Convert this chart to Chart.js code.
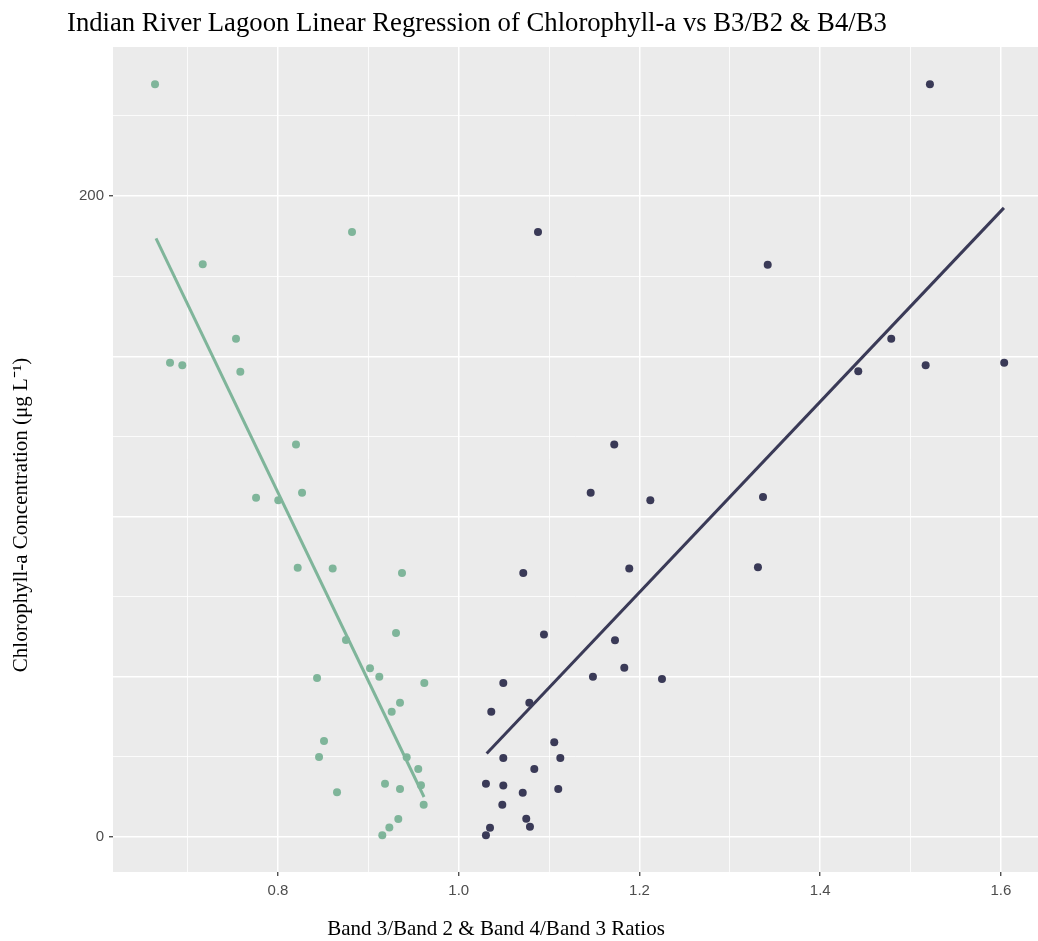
<!DOCTYPE html>
<html lang="en">
<head>
    <meta charset="UTF-8">
    <title>Indian River Lagoon Linear Regression</title>
    <script src="https://cdn.jsdelivr.net/npm/chart.js"></script>
    <style>
        body {
            margin: 0;
            padding: 0;
            background: white;
            overflow: hidden;
        }
        #wrap {
            width: 1038px;
            height: 941px;
        }
        canvas {
            display: block;
        }
    </style>
</head>
<body>
    <div id="wrap"><canvas id="chlChart" width="1038" height="941"></canvas></div>

    <script>
        // B3/B2 ratio vs chlorophyll-a (green points)
        const b32Ratio = [0.6639, 0.6805, 0.6941, 0.7167, 0.7535, 0.7583, 0.7757, 0.8003, 0.8199, 0.8266,
                          0.8218, 0.8605, 0.8819, 0.8752, 0.8432, 0.8509, 0.8454, 0.8653, 0.9018, 0.9121,
                          0.9306, 0.9372, 0.9258, 0.9350, 0.9619, 0.9424, 0.9552, 0.9184, 0.9350, 0.9582,
                          0.9612, 0.9331, 0.9232, 0.9154];
        const b32Chl = [234.9, 148.0, 147.2, 178.7, 155.5, 145.2, 105.9, 105.1, 122.5, 107.4,
                        84.0, 83.8, 188.8, 61.5, 49.6, 30.0, 25.0, 14.0, 52.7, 50.0,
                        63.7, 82.4, 39.1, 41.9, 48.1, 24.9, 21.2, 16.6, 15.0, 16.2,
                        10.1, 5.6, 3.0, 0.6];

        // B4/B3 ratio vs chlorophyll-a (dark points)
        const b43Ratio = [1.5214, 1.0877, 1.3419, 1.4786, 1.4421, 1.5167, 1.6036, 1.1721, 1.1460, 1.2120,
                          1.3367, 1.1887, 1.3311, 1.0714, 1.0943, 1.1729, 1.1832, 1.1485, 1.2249, 1.0493,
                          1.0360, 1.0781, 1.1057, 1.1124, 1.0493, 1.0836, 1.0301, 1.0493, 1.1101, 1.0708,
                          1.0482, 1.0747, 1.0788, 1.0346, 1.0301];
        const b43Chl = [234.9, 188.8, 178.6, 155.5, 145.3, 147.2, 148.0, 122.5, 107.4, 105.1,
                        106.1, 83.8, 84.2, 82.4, 63.2, 61.4, 52.8, 50.0, 49.3, 48.1,
                        39.1, 41.9, 29.6, 24.7, 24.7, 21.2, 16.6, 16.1, 15.0, 13.8,
                        10.1, 5.7, 3.2, 2.9, 0.6];

        // fitted lines, endpoints
        const b32FitX = [0.6650, 0.9616];
        const b32FitY = [186.8, 12.5];
        const b43FitX = [1.0309, 1.6033];
        const b43FitY = [26.1, 196.3];

        const xTicks = [0.7, 0.8, 0.9, 1.0, 1.1, 1.2, 1.3, 1.4, 1.5, 1.6];
        const xMajor = [0.8, 1.0, 1.2, 1.4, 1.6];
        const yTicks = [0, 25, 50, 75, 100, 125, 150, 175, 200, 225];
        const yLabeled = [0, 200];

        const GREEN = '#7FB59A';
        const DARK = '#3A3A57';

        function toPoints(xs, ys) {
            return xs.map((x, i) => ({ x: x, y: ys[i] }));
        }
        function isMajorX(v) {
            return xMajor.some(m => Math.abs(m - v) < 1e-6);
        }

        // grey panel, titles drawn by hand like ggplot
        const ggPanel = {
            id: 'ggPanel',
            beforeDraw(chart) {
                const { ctx, chartArea: a } = chart;
                ctx.save();
                ctx.fillStyle = '#EBEBEB';
                ctx.fillRect(a.left, a.top, a.right - a.left, a.bottom - a.top);
                ctx.restore();
            },
            afterDraw(chart) {
                const ctx = chart.ctx;
                ctx.save();
                ctx.fillStyle = '#000';
                ctx.font = '26.7px "Liberation Serif", "Times New Roman", serif';
                ctx.textBaseline = 'alphabetic';
                ctx.textAlign = 'left';
                ctx.fillText('Indian River Lagoon Linear Regression of Chlorophyll-a vs B3/B2 & B4/B3', 67, 31);

                ctx.font = '21px "Liberation Serif", "Times New Roman", serif';
                ctx.textAlign = 'center';
                ctx.fillText('Band 3/Band 2 & Band 4/Band 3 Ratios', 496, 935);

                ctx.translate(27, 515);
                ctx.rotate(-Math.PI / 2);
                ctx.fillText('Chlorophyll-a Concentration (\u03BCg L\u207B\u00B9)', 0, 0);
                ctx.restore();
            }
        };

        const ctx = document.getElementById('chlChart').getContext('2d');
        new Chart(ctx, {
            type: 'scatter',
            data: {
                datasets: [
                    {
                        type: 'line',
                        data: toPoints(b32FitX, b32FitY),
                        borderColor: GREEN,
                        borderWidth: 3,
                        pointRadius: 0,
                        fill: false
                    },
                    {
                        type: 'line',
                        data: toPoints(b43FitX, b43FitY),
                        borderColor: DARK,
                        borderWidth: 3,
                        pointRadius: 0,
                        fill: false
                    },
                    {
                        data: toPoints(b32Ratio, b32Chl),
                        backgroundColor: GREEN,
                        borderWidth: 0,
                        pointRadius: 4
                    },
                    {
                        data: toPoints(b43Ratio, b43Chl),
                        backgroundColor: DARK,
                        borderWidth: 0,
                        pointRadius: 4
                    }
                ]
            },
            options: {
                responsive: false,
                animation: false,
                layout: { autoPadding: false, padding: { left: 0, top: 47, right: 0, bottom: 0 } },
                plugins: {
                    legend: { display: false },
                    tooltip: { enabled: false }
                },
                scales: {
                    x: {
                        type: 'linear',
                        min: 0.6174,
                        max: 1.641,
                        afterBuildTicks: (scale) => { scale.ticks = xTicks.map(v => ({ value: v })); },
                        afterFit: (scale) => {
                            scale.height = 69;
                            scale.paddingLeft = 0;
                            scale.paddingRight = 0;
                        },
                        border: { display: false },
                        grid: {
                            color: '#FFFFFF',
                            lineWidth: (c) => isMajorX(c.tick.value) ? 1.5 : 0.8,
                            tickColor: (c) => isMajorX(c.tick.value) ? '#333333' : 'rgba(0,0,0,0)',
                            tickLength: 4,
                            tickWidth: 1.2
                        },
                        ticks: {
                            autoSkip: false,
                            maxRotation: 0,
                            padding: 6,
                            color: '#4D4D4D',
                            font: { family: '"Liberation Sans", Arial, sans-serif', size: 15 },
                            callback: (v) => isMajorX(v) ? v.toFixed(1) : ''
                        }
                    },
                    y: {
                        type: 'linear',
                        min: -10.9,
                        max: 246.5,
                        afterBuildTicks: (scale) => { scale.ticks = yTicks.map(v => ({ value: v })); },
                        afterFit: (scale) => {
                            scale.width = 113;
                            scale.paddingTop = 0;
                            scale.paddingBottom = 0;
                        },
                        border: { display: false },
                        grid: {
                            color: '#FFFFFF',
                            lineWidth: (c) => c.tick.value % 50 === 0 ? 1.5 : 0.8,
                            tickColor: (c) => yLabeled.includes(c.tick.value) ? '#333333' : 'rgba(0,0,0,0)',
                            tickLength: 4,
                            tickWidth: 1.2
                        },
                        ticks: {
                            autoSkip: false,
                            padding: 5,
                            color: '#4D4D4D',
                            font: { family: '"Liberation Sans", Arial, sans-serif', size: 15 },
                            callback: (v) => yLabeled.includes(v) ? String(v) : ''
                        }
                    }
                }
            },
            plugins: [ggPanel]
        });
    </script>
</body>
</html>
